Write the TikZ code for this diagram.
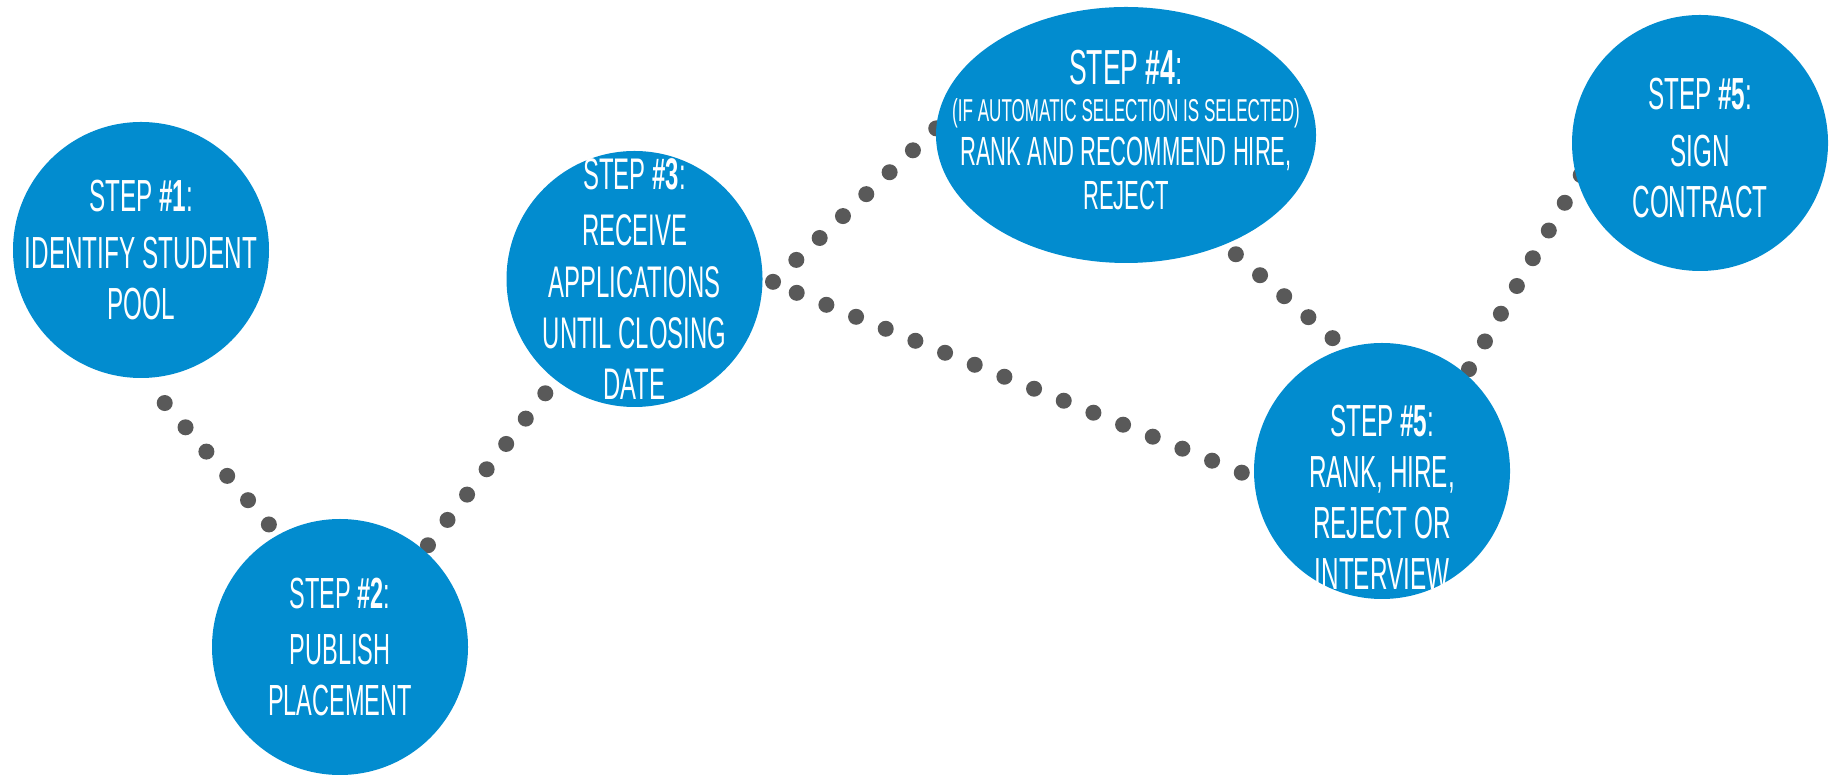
\documentclass[tikz,border=0pt]{standalone}
\usepackage{fontspec}
\setmainfont[FakeStretch=0.54]{Liberation Sans}
\usetikzlibrary{positioning,backgrounds,shapes.geometric}
\definecolor{stepblue}{RGB}{2,140,207}
\definecolor{dotgray}{RGB}{89,89,89}
\tikzset{
    on grid,
    stepcircle/.style = {
        shape=circle,
        fill=stepblue,
        minimum size=25.6mm,
        inner sep=0pt,
        outer sep=0pt
    },
    stepoval/.style = {
        shape=ellipse,
        fill=stepblue,
        minimum width=38mm,
        minimum height=25.6mm,
        inner sep=0pt,
        outer sep=0pt
    },
    steptext/.style = {
        text=white,
        align=center,
        inner sep=0pt,
        font=\fontsize{12.8}{14.5}\selectfont
    },
    dotline/.style = {
        draw=dotgray,
        line width=1.6mm,
        line cap=round,
        dash pattern=on 0pt off 3.2mm
    },
}

\begin{document}
\begin{tikzpicture}
    \useasboundingbox (0,0) rectangle (183.7mm,77.4mm);

    \node[stepcircle] (s1) at (14.1mm,52.4mm) {};
    \node[stepcircle, below right=39.7mm and 19.9mm of s1] (s2) {};
    \node[stepcircle, above right=36.8mm and 29.45mm of s2] (s3) {};
    \node[stepoval, above right=14.4mm and 49.15mm of s3] (s4) {};
    \node[stepcircle, below right=33.6mm and 25.6mm of s4] (s5) {};
    \node[stepcircle, above right=32.8mm and 31.8mm of s5] (s6) {};

    \node[steptext] (t1) at (s1) {STEP \textbf{\#1}:\\[1.5pt] IDENTIFY STUDENT\\ POOL};
    \node[steptext, font=\fontsize{12.4}{14.5}\selectfont] (t2) at (s2) {STEP \textbf{\#2}:\\[1.5pt] PUBLISH\\ PLACEMENT};
    \node[steptext, font=\fontsize{12.6}{14.6}\selectfont] (t3) at (s3)
        {STEP \textbf{\#3}:\\[1.5pt] RECEIVE\\ APPLICATIONS\\ UNTIL CLOSING\\ DATE};
    \node[steptext, above=0.5mm of s4, font=\fontsize{11.6}{12.6}\selectfont] (t4)
        {{\fontsize{14}{14}\selectfont STEP \textbf{\#4}:}\\[-2pt]
         {\fontsize{9}{10}\selectfont (IF AUTOMATIC SELECTION IS SELECTED)}\\
         RANK AND RECOMMEND HIRE,\\ REJECT};
    \node[steptext, below=2.6mm of s5] (t5) {STEP \textbf{\#5}:\\ RANK, HIRE,\\ REJECT OR\\ INTERVIEW};
    \node[steptext, below=0.5mm of s6] (t6) {STEP \textbf{\#5}:\\[1.5pt] SIGN\\ CONTRACT};

    \begin{scope}[on background layer]
        \path[dotline, shorten <=3.3mm, shorten >=1.1mm] (s1.-89) -- (s2.119);
        \path[dotline, shorten <=0.65mm, shorten >=1.4mm] (s2.49.5) -- (s3.-128.9);
        \path[dotline, shorten <=1.54mm, shorten >=-0.2mm] (s3.-6.4) -- (s4.178.5);
        \path[dotline, shorten <=3.69mm, shorten >=1.07mm] (s3.east) -- (s5.-177.6);
        \path[dotline, shorten <=1.5mm, shorten >=1.3mm] (s4.-48.3) -- (s5.107.9);
        \path[dotline, shorten <=0.6mm, shorten >=-0.65mm] (s5.49.4) -- (s6.-163.8);
    \end{scope}
\end{tikzpicture}
\end{document}
